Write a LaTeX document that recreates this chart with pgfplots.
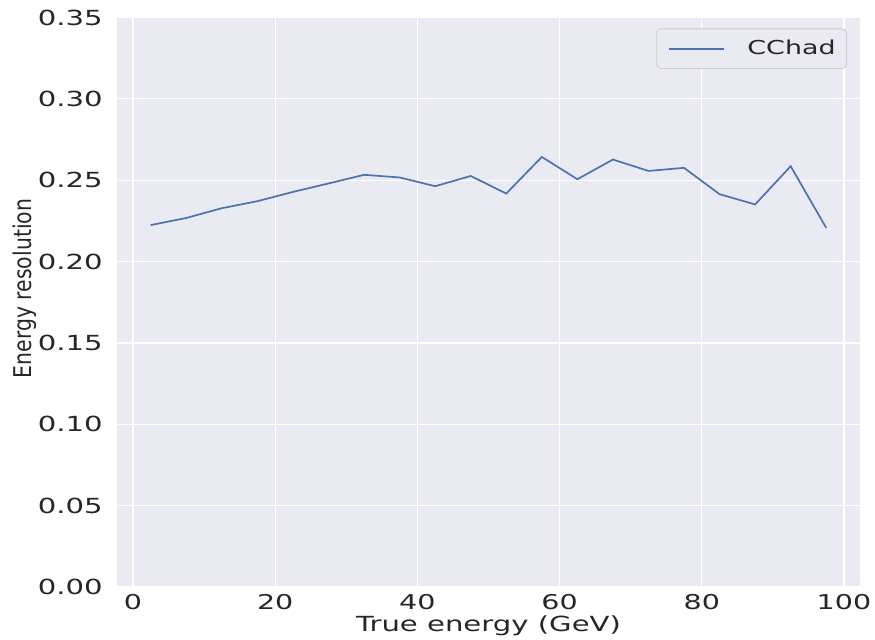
\documentclass[border=0pt]{standalone}
\usepackage{fontspec}
\usepackage{graphicx}
\usepackage{pgfplots}
\pgfplotsset{compat=1.18}
\setmainfont{DejaVu Sans}[FakeStretch=1.4]
\newfontfamily\ylabfont{DejaVu Sans}
\definecolor{bgcol}{HTML}{EAEAF2}
\definecolor{linecol}{HTML}{4C72B0}
\definecolor{txtcol}{HTML}{262626}
\begin{document}
\begin{tikzpicture}
\useasboundingbox (-58.5pt,-26.5pt) rectangle (379pt,293.5pt);
\begin{axis}[
  at={(0,0)}, anchor=south west,
  scale only axis,
  width=371.5pt, height=284.75pt,
  xmin=-2.25, xmax=102.25,
  ymin=0, ymax=0.35,
  xtick={0,20,40,60,80,100},
  ytick={0,0.05,0.1,0.15,0.2,0.25,0.3,0.35},
  axis background/.style={fill=bgcol},
  axis line style={draw=none},
  tick style={draw=none},
  grid=major,
  major grid style={white, line width=0.6pt},
  /pgf/number format/assume math mode=true,
  yticklabel style={/pgf/number format/fixed, /pgf/number format/precision=2, /pgf/number format/fixed zerofill,
    anchor=east, inner sep=0pt, xshift=-7pt, font=\fontsize{10.4}{12}\selectfont, text=txtcol},
  xticklabel style={anchor=base, inner sep=0pt, yshift=-11.5pt, font=\fontsize{10.2}{12}\selectfont, text=txtcol},
  xlabel={True energy (GeV)},
  xlabel style={at={(axis description cs:0.5,-0.0785)}, anchor=base, inner sep=0pt, font=\fontsize{10.4}{12}\selectfont, text=txtcol},
  ylabel={\scalebox{1}[1.2]{\ylabfont Energy resolution}},
  ylabel style={at={(axis description cs:-0.1245,0.5241)}, anchor=center, rotate=0, inner sep=0pt, font=\fontsize{10.2}{12}\selectfont, text=txtcol},
  legend image code/.code={\draw[#1] (0pt,0pt) -- (27.5pt,0pt);},
  legend style={at={(axis description cs:0.9825,0.9807)}, anchor=north east,
    draw=black!20, fill=bgcol, rounded corners=2pt,
    inner xsep=5.5pt, inner ysep=5.5pt, column sep=11.5pt,
    nodes={inner sep=0pt, text=txtcol},
    font=\fontsize{9.6}{12}\selectfont},
]
\addplot[color=linecol, line width=0.85pt] coordinates {
(2.5,0.2224) (7.5,0.2268) (12.5,0.2328) (17.5,0.2371) (22.5,0.2428)
(27.5,0.2480) (32.5,0.2533) (37.5,0.2517) (42.5,0.2463) (47.5,0.2526)
(52.5,0.2418) (57.5,0.2643) (62.5,0.2506) (67.5,0.2627) (72.5,0.2557)
(77.5,0.2576) (82.5,0.2414) (87.5,0.2351) (92.5,0.2586) (97.5,0.2207)
};
\addlegendentry{CChad}
\end{axis}
\end{tikzpicture}
\end{document}
